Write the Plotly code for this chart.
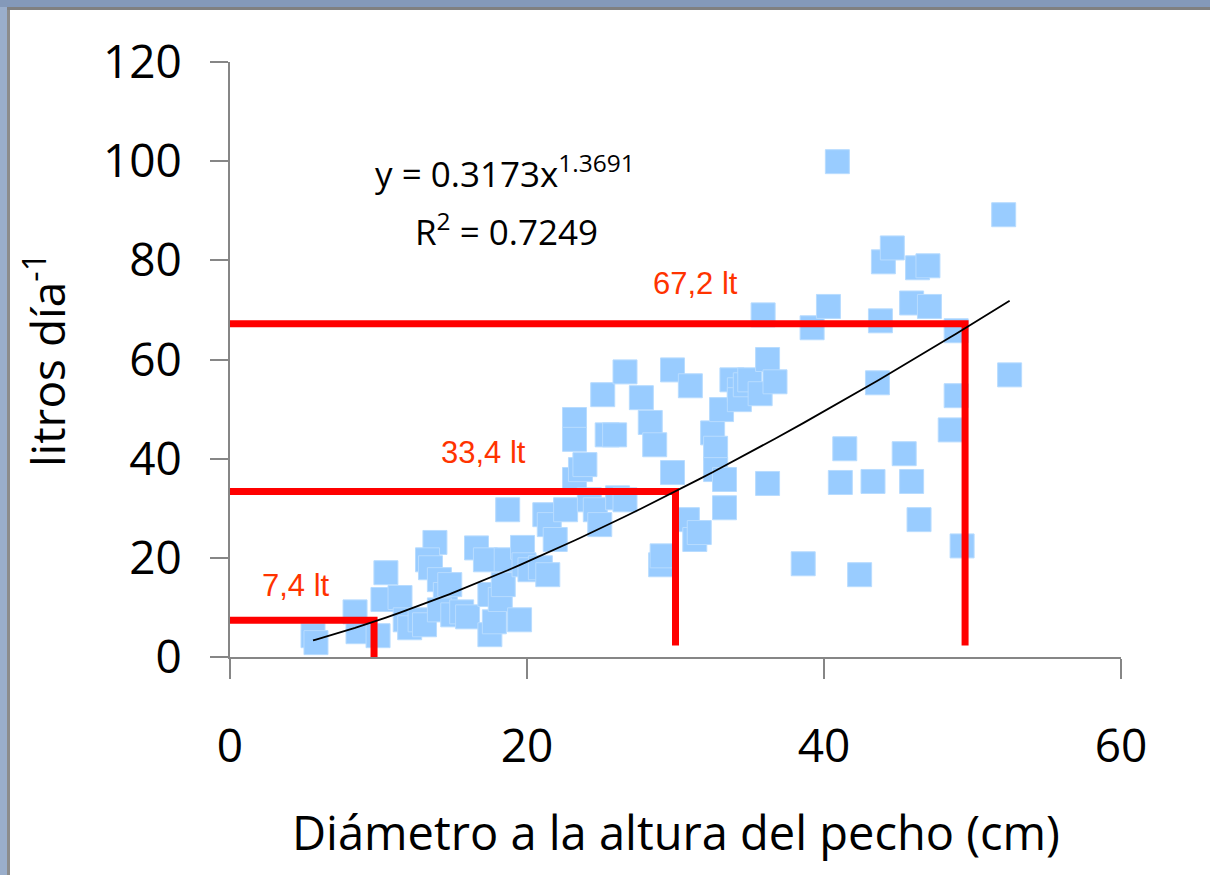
import plotly.graph_objects as go

# Diámetro a la altura del pecho (cm) y consumo de agua (litros/día) por árbol
dap_cm = [5.59, 5.79, 8.42, 8.62, 9.97, 10.5, 10.3, 11.45, 11.8, 12.1,
          12.8, 13.1, 13.8, 13.3, 13.5, 14.1, 14.5, 14.8, 14.1, 15.0,
          15.6, 16.0, 16.6, 17.2, 17.5, 17.5, 17.8, 18.2, 18.4, 18.6,
          18.7, 19.5, 19.7, 19.8, 20.2, 20.9, 21.2, 21.4, 21.5, 21.9,
          22.6, 23.2, 23.2, 23.2, 23.6, 23.9, 24.2, 24.6, 24.9, 25.1,
          25.4, 25.9, 26.1, 26.6, 26.6, 27.7, 28.3, 28.6, 29.0, 29.1,
          29.8, 29.8, 30.8, 31.0, 31.3, 31.6, 32.5, 32.7, 32.7, 33.1,
          33.3, 33.3, 33.8, 34.3, 34.3, 34.7, 35.0, 35.7, 35.9, 36.2,
          36.2, 36.7, 38.6, 39.2, 40.3, 40.9, 41.1, 41.4, 42.4, 43.3,
          43.6, 43.8, 44.0, 44.6, 45.4, 45.9, 45.9, 46.3, 46.4, 47.0,
          47.1, 48.5, 48.9, 48.9, 49.3, 52.1, 52.5]
litros_dia = [4.3, 2.9, 9.1, 5.1, 4.3, 17.0, 11.6, 12.0, 7.5, 5.9,
              7.5, 6.5, 23.1, 19.6, 18.0, 15.6, 12.6, 14.6, 9.5, 8.5,
              9.1, 8.1, 22.0, 19.6, 12.6, 4.5, 7.1, 11.6, 14.6, 19.6,
              29.7, 7.5, 22.1, 18.6, 17.6, 18.0, 28.7, 16.6, 26.7, 23.7,
              29.7, 47.9, 43.9, 35.8, 37.8, 38.8, 31.7, 29.7, 26.7, 52.9,
              44.8, 44.8, 32.1, 57.5, 31.7, 52.3, 47.3, 42.8, 18.6, 20.4,
              57.9, 37.2, 27.7, 54.7, 23.7, 25.1, 45.2, 42.1, 37.8, 49.9,
              35.8, 30.1, 55.9, 53.9, 51.9, 54.9, 55.9, 53.1, 69.0, 60.0,
              35.0, 55.5, 18.8, 66.4, 70.7, 99.9, 35.2, 42.0, 16.6, 35.4,
              55.3, 67.8, 79.7, 82.5, 41.0, 35.4, 71.4, 78.5, 27.7, 78.9,
              70.7, 45.8, 52.7, 65.8, 22.4, 89.2, 56.9]

# Ajuste potencial: y = a * x^b
coef_a = 0.3173
coef_b = 1.3691
r2 = 0.7249

# Lecturas de referencia (diámetro, litros)
ref_dap = [9.7, 30.0, 49.5]
ref_litros = [7.4, 33.4, 67.2]
ref_labels = ["7,4 lt", "33,4 lt", "67,2 lt"]
ref_bottom = [-0.8, 2.3, 2.3]

FONT = "Open Sans"
W, H = 1210, 875
ML, MR, MT, MB = 230, 89, 62, 218
PW, PH = W - ML - MR, H - MT - MB


def px_x(p):
    return (p - ML) / PW


def px_y(p):
    return (H - MB - p) / PH


fig = go.Figure()

fig.add_trace(go.Scatter(
    x=dap_cm, y=litros_dia, mode="markers",
    marker=dict(symbol="square", size=24, color="#99CCFF",
                line=dict(color="#B8DCFF", width=1)),
    showlegend=False, hoverinfo="x+y",
))

# Líneas rojas de lectura
for d, l, b in zip(ref_dap, ref_litros, ref_bottom):
    fig.add_trace(go.Scatter(
        x=[-0.5, d, d], y=[l, l, b], mode="lines",
        line=dict(color="#FF0000", width=7),
        showlegend=False, hoverinfo="skip",
    ))

# Curva de tendencia evaluada en los diámetros observados
xs = sorted(dap_cm)
ys = [coef_a * x ** coef_b for x in xs]
fig.add_trace(go.Scatter(
    x=xs, y=ys, mode="lines",
    line=dict(color="#000000", width=1.8),
    showlegend=False, hoverinfo="skip",
))

axis_common = dict(
    showgrid=False, zeroline=False, showline=True,
    linecolor="#868686", linewidth=2,
    ticks="outside", tickcolor="#868686", tickwidth=2,
    tickfont=dict(family=FONT, size=46, color="#000000"),
)
fig.update_xaxes(range=[0, 60], tickvals=[0, 20, 40, 60], ticklen=20,
                 ticklabelstandoff=28, **axis_common)
fig.update_yaxes(range=[0, 120], tickvals=[0, 20, 40, 60, 80, 100, 120],
                 ticklen=18, ticklabelstandoff=19, **axis_common)

annotations = [
    dict(text="Diámetro a la altura del pecho (cm)", xref="paper", yref="paper",
         x=px_x(676), y=px_y(832), xanchor="center", yanchor="middle",
         showarrow=False, font=dict(family=FONT, size=47, color="#000000")),
    dict(text="litros día<sup>-1</sup>", xref="paper", yref="paper",
         x=px_x(45), y=px_y(360), xanchor="center", yanchor="middle",
         textangle=-90, showarrow=False,
         font=dict(family=FONT, size=46, color="#000000")),
    dict(text=f"y = {coef_a:.4f}x<sup>{coef_b:.4f}</sup>", xref="paper", yref="paper",
         x=px_x(505), y=px_y(171), xanchor="center", yanchor="middle",
         showarrow=False, font=dict(family=FONT, size=35, color="#000000")),
    dict(text=f"R<sup>2</sup> = {r2:.4f}", xref="paper", yref="paper",
         x=px_x(506), y=px_y(229), xanchor="center", yanchor="middle",
         showarrow=False, font=dict(family=FONT, size=35, color="#000000")),
]
label_pos = [(296, 585), (483, 452), (695, 283)]
for txt, (lx, ly) in zip(ref_labels, label_pos):
    annotations.append(dict(
        text=txt, xref="paper", yref="paper", x=px_x(lx), y=px_y(ly),
        xanchor="center", yanchor="middle", showarrow=False,
        font=dict(family="Liberation Sans", size=31, color="#FF3300")))

# Marco de la diapositiva: banda superior e izquierda
shapes = [
    dict(type="rect", xref="paper", yref="paper", layer="below",
         x0=px_x(0), x1=px_x(W), y0=px_y(0), y1=px_y(7),
         fillcolor="#8499B9", line=dict(width=0)),
    dict(type="rect", xref="paper", yref="paper", layer="below",
         x0=px_x(0), x1=px_x(W), y0=px_y(7), y1=px_y(10),
         fillcolor="#808080", line=dict(width=0)),
    dict(type="rect", xref="paper", yref="paper", layer="below",
         x0=px_x(0), x1=px_x(7), y0=px_y(7), y1=px_y(H),
         fillcolor="#9AAECB", line=dict(width=0)),
    dict(type="rect", xref="paper", yref="paper", layer="below",
         x0=px_x(7), x1=px_x(10), y0=px_y(10), y1=px_y(H),
         fillcolor="#8C8C8C", line=dict(width=0)),
]

fig.update_layout(
    width=W, height=H,
    margin=dict(l=ML, r=MR, t=MT, b=MB),
    paper_bgcolor="#FFFFFF", plot_bgcolor="#FFFFFF",
    annotations=annotations, shapes=shapes,
    showlegend=False,
)

fig.write_html("out.html")
